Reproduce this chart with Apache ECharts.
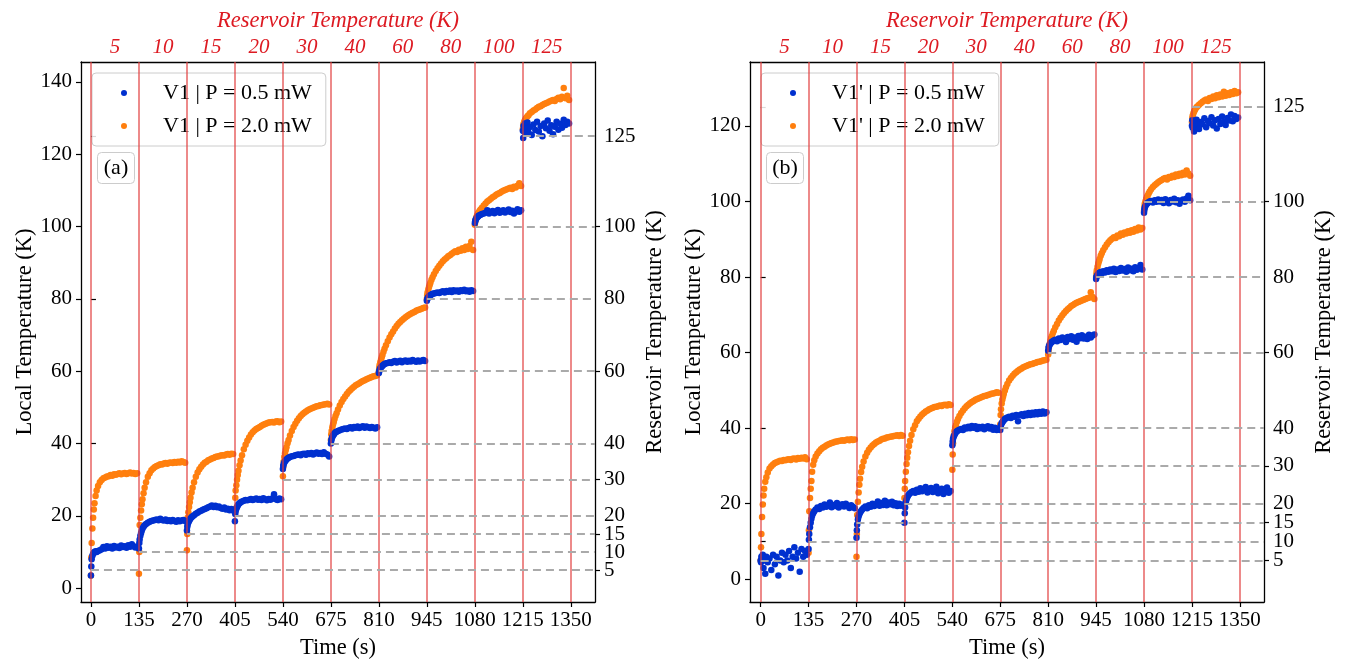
<!DOCTYPE html>
<html>
<head>
<meta charset="utf-8">
<title>Local vs reservoir temperature</title>
<script src="https://cdn.jsdelivr.net/npm/echarts@6/dist/echarts.min.js"></script>
<style>
  html, body { margin: 0; padding: 0; background: #fff; }
  #chart { width: 1346px; height: 661px; }
</style>
</head>
<body>
<div id="chart"></div>
<script>
// Time offsets (s) inside each 135 s reservoir step at which readings are kept
const OFFSETS = [0, 1, 2, 4, 6, 8, 10, 13, 16, 20, 25, 30, 35, 40, 45, 50, 55, 60, 65, 70, 75, 80, 85, 90, 95, 100, 105, 110, 115, 120, 125, 130];
const STEP = 135;
const RESERVOIR_K = [5, 10, 15, 20, 30, 40, 60, 80, 100, 125];
const TIME_TICKS = [0, 135, 270, 405, 540, 675, 810, 945, 1080, 1215, 1350];
// right-hand set-point ticks, split in two interleaved groups so close labels all stay visible
const RIGHT_TICKS_ODD = [5, 15, 30, 60, 100];
const RIGHT_TICKS_EVEN = [10, 20, 40, 80, 125];
const LEFT_TICKS_A = [0, 20, 40, 60, 80, 100, 120, 140];
const LEFT_TICKS_B = [0, 20, 40, 60, 80, 100, 120];

// Device V1, 0.5 mW — one row per reservoir step
const aLow = [
  [3.5, 6.0, 8.0, 9.0, 9.5, 9.8, 10.0, 10.2, 10.0, 10.3, 10.5, 10.8, 11.4, 11.0, 11.6, 11.2, 11.5, 11.0, 11.7, 11.3, 11.5, 11.1, 11.8, 11.4, 11.6, 11.2, 11.9, 11.5, 12.2, 11.6, 11.3, 11.5],
  [11.0, 12.5, 13.5, 14.5, 15.3, 16.0, 16.5, 17.0, 17.4, 17.8, 18.1, 18.4, 18.6, 18.7, 18.9, 19.0, 18.8, 19.2, 18.9, 18.7, 19.0, 18.6, 18.8, 18.5, 18.9, 18.6, 18.4, 18.8, 18.5, 18.7, 18.9, 18.6],
  [16.0, 17.0, 17.6, 18.2, 18.6, 19.0, 19.3, 19.6, 19.9, 20.2, 20.6, 20.9, 21.2, 21.4, 21.7, 21.9, 22.1, 22.4, 22.6, 22.9, 22.5, 22.8, 22.4, 22.6, 22.2, 22.0, 22.3, 21.8, 22.0, 21.6, 21.9, 21.5],
  [18.5, 20.5, 21.3, 22.0, 22.5, 22.9, 23.2, 23.5, 23.8, 24.0, 24.2, 24.4, 24.3, 24.5, 24.7, 24.4, 24.6, 24.8, 24.5, 24.7, 24.4, 24.9, 24.6, 24.3, 24.7, 24.5, 24.8, 26.0, 24.6, 24.4, 24.8, 24.6],
  [33.0, 33.8, 34.3, 34.8, 35.1, 35.4, 35.6, 35.9, 36.1, 36.3, 36.5, 36.6, 36.8, 36.9, 37.0, 36.8, 37.1, 37.2, 36.9, 37.3, 37.1, 37.4, 37.0, 37.3, 37.5, 37.2, 37.4, 37.1, 37.6, 37.2, 37.0, 36.4],
  [40.0, 40.8, 41.3, 41.8, 42.2, 42.5, 42.8, 43.1, 43.3, 43.5, 43.7, 43.9, 44.0, 44.2, 44.0, 44.3, 44.5, 44.2, 44.6, 44.4, 44.7, 44.3, 44.6, 44.8, 44.4, 44.7, 44.5, 44.3, 44.6, 44.4, 44.2, 44.5],
  [59.5, 60.0, 60.4, 60.8, 61.1, 61.3, 61.5, 61.8, 62.0, 62.2, 62.3, 62.5, 62.3, 62.6, 62.8, 62.4, 62.7, 62.9, 62.5, 62.8, 63.0, 62.6, 62.9, 62.7, 63.1, 62.8, 62.6, 63.0, 62.7, 62.9, 63.1, 62.8],
  [79.5, 79.9, 80.2, 80.5, 80.7, 80.9, 81.0, 81.2, 81.4, 81.5, 81.6, 81.8, 81.6, 81.9, 82.1, 81.8, 82.2, 82.0, 82.3, 81.9, 82.4, 82.1, 82.3, 82.0, 82.4, 82.2, 82.5, 82.1, 82.3, 82.0, 82.4, 82.2],
  [101.0, 101.5, 101.9, 102.2, 102.5, 102.7, 102.9, 103.1, 103.3, 103.5, 103.6, 103.8, 104.5, 103.6, 104.0, 104.3, 103.7, 104.2, 104.6, 103.8, 104.1, 104.5, 103.9, 104.3, 104.7, 104.0, 104.4, 103.6, 104.2, 104.8, 104.1, 104.5],
  [126.5, 124.5, 127.8, 126.2, 128.5, 125.8, 127.0, 128.8, 126.0, 127.5, 125.3, 128.2, 126.7, 129.0, 126.3, 127.8, 125.0, 128.5, 127.2, 129.3, 126.5, 128.0, 125.5, 127.6, 129.0, 126.8, 128.4, 127.3, 129.5, 128.1, 129.0, 128.5]
];

// Device V1, 2.0 mW
const aHigh = [
  [3.5, 8.5, 12.5, 16.5, 19.5, 21.8, 23.5, 25.5, 27.0, 28.3, 29.3, 29.9, 30.4, 30.6, 30.9, 31.0, 31.3, 31.1, 31.5, 31.4, 31.6, 31.8, 31.5, 31.7, 31.9, 31.6, 31.8, 32.0, 31.7, 31.9, 31.6, 31.8],
  [4.0, 10.0, 17.5, 19.5, 21.5, 23.2, 24.6, 26.3, 27.8, 29.3, 30.8, 31.8, 32.6, 33.1, 33.5, 33.8, 34.0, 34.3, 34.2, 34.5, 34.6, 34.4, 34.7, 34.8, 34.6, 34.9, 34.7, 35.0, 34.8, 35.1, 34.9, 34.7],
  [10.5, 15.0, 19.5, 21.0, 22.5, 23.8, 25.0, 26.5, 27.8, 29.3, 30.8, 32.0, 32.9, 33.6, 34.2, 34.7, 35.0, 35.4, 35.6, 35.9, 36.0, 36.3, 36.4, 36.5, 36.7, 36.8, 36.7, 37.0, 37.1, 36.9, 37.2, 37.1],
  [22.0, 25.0, 27.0, 28.5, 30.0, 31.3, 32.5, 34.0, 35.3, 36.8, 38.4, 39.7, 40.8, 41.7, 42.5, 43.1, 43.6, 44.0, 44.3, 44.6, 44.9, 45.2, 45.4, 45.6, 45.8, 45.9, 46.0, 45.8, 46.1, 46.2, 45.9, 46.1],
  [31.0, 33.5, 35.0, 36.3, 37.3, 38.2, 39.0, 40.1, 41.0, 42.2, 43.5, 44.6, 45.5, 46.3, 47.0, 47.6, 48.1, 48.5, 48.9, 49.2, 49.5, 49.7, 49.9, 50.1, 50.3, 50.4, 50.6, 50.7, 50.8, 50.9, 51.0, 50.8],
  [41.0, 42.5, 43.5, 44.5, 45.3, 46.0, 46.7, 47.6, 48.4, 49.4, 50.5, 51.5, 52.3, 53.0, 53.7, 54.3, 54.8, 55.3, 55.7, 56.1, 56.4, 56.7, 57.0, 57.3, 57.5, 57.8, 58.0, 58.2, 58.4, 58.6, 58.7, 58.9],
  [60.0, 61.0, 61.7, 62.5, 63.2, 63.9, 64.5, 65.4, 66.2, 67.2, 68.3, 69.3, 70.2, 71.0, 71.8, 72.5, 73.1, 73.6, 74.1, 74.5, 74.9, 75.3, 75.6, 75.9, 76.2, 76.4, 76.7, 76.9, 77.1, 77.3, 77.5, 77.6],
  [80.0, 81.0, 81.8, 82.6, 83.3, 83.9, 84.5, 85.3, 86.0, 86.8, 87.7, 88.5, 89.2, 89.8, 90.4, 90.9, 91.3, 91.8, 92.1, 92.5, 92.8, 93.2, 93.0, 93.6, 93.3, 94.0, 93.5, 94.4, 93.8, 94.6, 95.8, 93.5],
  [100.5, 101.3, 101.9, 102.5, 103.0, 103.4, 103.8, 104.3, 104.7, 105.2, 105.8, 106.4, 106.9, 107.3, 107.7, 108.1, 108.4, 108.8, 109.1, 109.3, 109.6, 109.9, 110.1, 110.3, 110.5, 110.7, 110.4, 111.0, 110.8, 111.3, 112.0, 111.2],
  [127.0, 127.8, 128.4, 129.0, 129.4, 129.8, 130.1, 130.5, 130.8, 131.3, 131.7, 132.1, 132.4, 132.8, 133.1, 133.3, 133.6, 133.9, 134.1, 134.3, 134.6, 134.8, 135.0, 134.7, 135.3, 135.6, 135.2, 135.9, 138.3, 135.5, 136.2, 135.0]
];

// Device V1', 0.5 mW
const bLow = [
  [5.0, 4.5, 6.0, 5.5, 6.5, 3.0, 5.0, 1.5, 6.0, 4.5, 5.5, 2.5, 6.5, 4.0, 6.0, 1.0, 5.0, 7.0, 4.5, 6.5, 5.0, 7.5, 3.0, 6.0, 8.5, 5.5, 7.0, 2.0, 8.0, 6.0, 7.5, 6.5],
  [8.0, 10.5, 12.0, 13.8, 15.0, 16.0, 16.8, 17.5, 18.0, 18.5, 19.0, 18.6, 19.4, 19.0, 19.8, 19.2, 19.6, 20.3, 19.1, 19.7, 19.4, 20.2, 19.0, 19.6, 19.9, 19.3, 20.0, 19.5, 18.9, 19.6, 19.2, 18.8],
  [11.0, 13.0, 14.5, 15.8, 16.6, 17.2, 17.7, 18.1, 18.5, 18.9, 19.3, 18.8, 19.6, 19.2, 20.0, 19.4, 19.9, 20.6, 19.5, 20.2, 19.7, 20.8, 19.6, 20.3, 19.9, 20.5, 19.6, 20.1, 19.4, 20.0, 19.5, 19.8],
  [15.0, 17.5, 19.0, 20.3, 21.1, 21.7, 22.1, 22.5, 22.8, 23.1, 23.4, 22.9, 23.7, 23.2, 24.1, 23.3, 23.9, 24.4, 23.0, 23.8, 24.2, 23.1, 23.7, 24.5, 22.8, 23.6, 24.0, 22.6, 23.5, 24.3, 22.9, 23.4],
  [35.5, 36.5, 37.2, 37.8, 38.2, 38.6, 38.9, 39.2, 39.4, 39.6, 39.8, 39.5, 40.2, 39.9, 40.4, 40.0, 40.6, 40.1, 40.5, 39.8, 40.3, 40.0, 40.4, 39.7, 40.2, 40.5, 39.9, 40.3, 39.6, 40.1, 39.5, 39.8],
  [39.5, 40.3, 40.8, 41.3, 41.6, 41.9, 42.1, 42.4, 42.6, 42.8, 43.0, 42.7, 43.3, 43.0, 43.5, 41.8, 43.4, 43.7, 43.2, 43.8, 43.4, 44.0, 43.5, 44.1, 43.6, 44.2, 43.7, 44.3, 43.8, 44.4, 43.9, 44.2],
  [60.5, 61.2, 61.7, 62.1, 62.4, 62.6, 62.8, 63.0, 63.2, 63.4, 63.0, 63.7, 63.3, 64.0, 63.5, 62.8, 64.1, 63.6, 64.3, 63.4, 64.0, 62.9, 64.4, 63.8, 64.6, 63.7, 64.2, 63.6, 64.7, 64.0, 64.5, 64.8],
  [79.5, 80.0, 80.3, 80.6, 80.8, 81.0, 81.1, 81.3, 81.0, 81.5, 81.2, 81.8, 81.4, 82.0, 81.5, 82.2, 81.3, 82.0, 81.6, 82.4, 81.7, 82.1, 81.4, 82.5, 81.8, 82.2, 81.5, 82.6, 81.9, 82.3, 83.2, 82.0],
  [97.0, 97.8, 98.3, 98.8, 99.2, 99.4, 99.6, 99.8, 100.0, 100.1, 99.7, 100.3, 99.9, 100.5, 100.0, 100.4, 99.6, 100.6, 100.1, 99.5, 100.4, 100.0, 100.7, 99.8, 100.3, 99.4, 100.2, 100.5, 99.9, 100.8, 101.5, 100.3],
  [120.0, 121.5, 119.5, 120.8, 118.5, 121.2, 119.8, 121.6, 120.3, 119.2, 121.0, 120.4, 122.0, 119.6, 121.3, 120.7, 122.3, 120.1, 121.5, 119.3, 121.8, 120.5, 122.5, 121.0, 120.2, 122.1, 121.4, 123.0, 121.2, 122.6, 121.8, 122.2]
];

// Device V1', 2.0 mW
const bHigh = [
  [5.0, 8.5, 12.0, 16.5, 19.8, 22.2, 24.0, 25.8, 27.0, 28.3, 29.3, 29.9, 30.4, 30.8, 31.0, 31.2, 31.4, 31.3, 31.6, 31.5, 31.7, 31.8, 31.6, 31.9, 32.0, 31.7, 32.1, 31.9, 32.2, 32.0, 32.3, 31.8],
  [7.0, 13.0, 18.0, 21.5, 24.0, 26.0, 28.5, 30.3, 31.5, 32.5, 33.3, 33.9, 34.4, 34.8, 35.1, 35.4, 35.7, 35.9, 36.1, 36.2, 36.4, 36.5, 36.6, 36.7, 36.8, 36.7, 36.9, 37.0, 36.8, 37.1, 36.9, 37.0],
  [6.0, 12.0, 17.0, 20.5, 23.0, 25.0, 26.6, 28.4, 29.8, 31.2, 32.5, 33.5, 34.3, 34.9, 35.4, 35.8, 36.2, 36.5, 36.7, 37.0, 37.2, 37.3, 37.5, 37.6, 37.7, 37.8, 37.9, 38.0, 38.1, 37.9, 38.2, 38.0],
  [21.5, 24.0, 26.0, 28.5, 30.5, 32.2, 33.6, 35.3, 36.7, 38.2, 39.7, 40.8, 41.8, 42.5, 43.1, 43.6, 44.0, 44.4, 44.7, 45.0, 45.2, 45.4, 45.6, 45.7, 45.8, 46.0, 45.9, 46.1, 46.2, 46.0, 46.3, 46.1],
  [29.0, 33.0, 36.0, 38.0, 39.2, 40.1, 40.8, 41.7, 42.4, 43.2, 44.0, 44.7, 45.3, 45.8, 46.2, 46.6, 46.9, 47.2, 47.5, 47.7, 47.9, 48.1, 48.3, 48.5, 48.6, 48.8, 48.9, 49.1, 49.2, 49.3, 49.5, 49.4],
  [41.0, 43.5, 45.0, 46.5, 47.6, 48.4, 49.1, 50.0, 50.8, 51.7, 52.6, 53.3, 53.9, 54.4, 54.8, 55.2, 55.5, 55.8, 56.1, 56.3, 56.5, 56.7, 56.9, 57.0, 57.2, 57.3, 57.5, 57.6, 57.7, 57.9, 58.0, 58.1],
  [59.5, 60.5, 61.3, 62.2, 63.0, 63.7, 64.3, 65.1, 65.8, 66.7, 67.6, 68.5, 69.2, 69.9, 70.5, 71.0, 71.5, 71.9, 72.3, 72.6, 72.9, 73.2, 73.4, 73.6, 73.8, 74.0, 74.2, 74.4, 74.5, 76.0, 74.7, 74.2],
  [80.0, 81.0, 81.8, 82.7, 83.5, 84.2, 84.8, 85.6, 86.3, 87.1, 87.9, 88.6, 89.2, 89.7, 90.1, 90.5, 90.3, 91.0, 90.8, 91.5, 91.2, 91.8, 91.5, 92.1, 91.7, 92.4, 92.0, 92.7, 92.3, 93.1, 92.6, 93.0],
  [97.5, 98.5, 99.3, 100.0, 100.6, 101.1, 101.5, 102.1, 102.6, 103.2, 103.8, 104.3, 104.7, 105.1, 105.4, 105.7, 106.0, 106.2, 105.8, 106.5, 106.3, 106.8, 106.5, 107.1, 106.7, 107.3, 106.9, 107.6, 107.1, 108.2, 107.4, 106.8],
  [121.0, 122.0, 122.7, 123.3, 123.8, 124.2, 124.5, 124.9, 125.2, 125.6, 126.0, 126.4, 126.7, 127.0, 126.6, 127.4, 127.1, 127.8, 127.3, 128.1, 127.6, 128.3, 127.8, 129.0, 128.0, 128.6, 128.2, 128.9, 128.4, 129.2, 128.6, 128.9]
];

const FONT = "'Liberation Serif', 'Times New Roman', 'DejaVu Serif', serif";
const BLUE = '#0030cf';
const ORANGE = '#ff7f0e';
const RED_TEXT = '#dd1a22';
const RED_LINE = 'rgba(225, 60, 60, 0.6)';
const TICK_FS = 21;
const TITLE_FS = 22.5;

function toPoints(steps) {
  const pts = [];
  steps.forEach((vals, k) => {
    vals.forEach((v, i) => pts.push([k * STEP + OFFSETS[i], v]));
  });
  return pts;
}

const panels = [
  { left: 81, xMin: -28, xMax: 1418, yMin: -3.8, yMax: 145.5, leftTicks: LEFT_TICKS_A,
    low: aLow, high: aHigh, names: ['V1 | P = 0.5 mW', 'V1 | P = 2.0 mW'], tag: '(a)' },
  { left: 750, xMin: -30, xMax: 1418, yMin: -6, yMax: 136.9, leftTicks: LEFT_TICKS_B,
    low: bLow, high: bHigh, names: ["V1' | P = 0.5 mW", "V1' | P = 2.0 mW"], tag: '(b)' }
];

const PLOT_W = 514, PLOT_TOP = 62, PLOT_H = 540;

const option = {
  backgroundColor: '#fff',
  animation: false,
  textStyle: { fontFamily: FONT },
  grid: [], xAxis: [], yAxis: [], series: [], legend: [], graphic: []
};

const axisLine = { show: true, onZero: false, lineStyle: { color: '#000', width: 1.3 } };
const axisTick = (vals) => ({ show: true, length: 5, inside: false, customValues: vals, lineStyle: { color: '#000', width: 1.2 } });
const plainLabel = (vals, margin) => ({
  customValues: vals, fontFamily: FONT, fontSize: TICK_FS, color: '#000', margin,
  hideOverlap: false, showMinLabel: true, showMaxLabel: true, formatter: (v) => String(v)
});

panels.forEach((p, gi) => {
  option.grid.push({
    left: p.left, top: PLOT_TOP, width: PLOT_W, height: PLOT_H,
    containLabel: false, outerBoundsMode: 'none'
  });

  // bottom time axis
  option.xAxis.push({
    type: 'value', gridIndex: gi, position: 'bottom', min: p.xMin, max: p.xMax,
    name: 'Time (s)', nameLocation: 'middle', nameGap: 35,
    nameTextStyle: { fontFamily: FONT, fontSize: TITLE_FS, color: '#000' },
    axisLine, axisTick: axisTick(TIME_TICKS), splitLine: { show: false },
    axisLabel: plainLabel(TIME_TICKS, 8)
  });
  // top reservoir-temperature axis, labels centred on each step
  const centers = RESERVOIR_K.map((_, k) => k * STEP + STEP / 2);
  option.xAxis.push({
    type: 'value', gridIndex: gi, position: 'top', min: p.xMin, max: p.xMax,
    name: 'Reservoir Temperature (K)', nameLocation: 'middle', nameGap: 28,
    nameTextStyle: { fontFamily: FONT, fontSize: TITLE_FS, color: RED_TEXT, fontStyle: 'italic' },
    axisLine, axisTick: { show: false }, splitLine: { show: false },
    axisLabel: {
      customValues: centers, fontFamily: FONT, fontSize: TICK_FS, color: RED_TEXT, fontStyle: 'italic', margin: 4,
      hideOverlap: false, showMinLabel: true, showMaxLabel: true,
      formatter: (v) => String(RESERVOIR_K[Math.round((v - STEP / 2) / STEP)])
    }
  });
  // left local-temperature axis
  option.yAxis.push({
    type: 'value', gridIndex: gi, position: 'left', min: p.yMin, max: p.yMax,
    name: 'Local Temperature (K)', nameLocation: 'middle', nameGap: 38, nameRotate: 90,
    nameTextStyle: { fontFamily: FONT, fontSize: TITLE_FS, color: '#000' },
    axisLine, axisTick: axisTick(p.leftTicks), splitLine: { show: false },
    axisLabel: plainLabel(p.leftTicks, 9)
  });
  // right reservoir-temperature axis on the same scale (first half of the labels)
  option.yAxis.push({
    type: 'value', gridIndex: gi, position: 'right', min: p.yMin, max: p.yMax,
    name: 'Reservoir Temperature (K)', nameLocation: 'middle', nameGap: 49, nameRotate: 90,
    nameTextStyle: { fontFamily: FONT, fontSize: TITLE_FS, color: '#000' },
    axisLine, axisTick: axisTick(RIGHT_TICKS_ODD), splitLine: { show: false },
    axisLabel: plainLabel(RIGHT_TICKS_ODD, 9)
  });
  // second half of the right-hand labels, drawn on an overlapping axis
  option.yAxis.push({
    type: 'value', gridIndex: gi, position: 'right', min: p.yMin, max: p.yMax,
    axisLine: { show: false }, axisTick: axisTick(RIGHT_TICKS_EVEN), splitLine: { show: false },
    axisLabel: plainLabel(RIGHT_TICKS_EVEN, 9)
  });

  const xi = gi * 2, yi = gi * 3;

  // guide lines: red step boundaries and dashed reservoir set-points
  option.series.push({
    type: 'scatter', xAxisIndex: xi, yAxisIndex: yi, data: [], silent: true, z: 1,
    markLine: {
      silent: true, symbol: 'none', animation: false,
      label: { show: false }, emphasis: { disabled: true },
      lineStyle: { color: RED_LINE, width: 2, type: 'solid' },
      data: TIME_TICKS.map(t => ({ xAxis: t }))
    }
  });
  option.series.push({
    type: 'scatter', xAxisIndex: xi, yAxisIndex: yi, data: [], silent: true, z: 1,
    markLine: {
      silent: true, symbol: 'none', animation: false,
      label: { show: false }, emphasis: { disabled: true },
      lineStyle: { color: '#aaaaaa', width: 1.8, type: [8, 5] },
      data: RESERVOIR_K.map((T, k) => [{ coord: [k * STEP, T] }, { coord: [p.xMax, T] }])
    }
  });

  option.series.push({
    name: p.names[1], type: 'scatter', xAxisIndex: xi, yAxisIndex: yi, z: 3,
    symbol: 'circle', symbolSize: 6.5, itemStyle: { color: ORANGE, opacity: 1 },
    data: toPoints(p.high)
  });
  option.series.push({
    name: p.names[0], type: 'scatter', xAxisIndex: xi, yAxisIndex: yi, z: 4,
    symbol: 'circle', symbolSize: 6.5, itemStyle: { color: BLUE, opacity: 1 },
    data: toPoints(p.low)
  });

  option.legend.push({
    data: p.names, orient: 'vertical', left: p.left + 11, top: 73,
    itemWidth: 6, itemHeight: 6, itemGap: 11, icon: 'circle',
    padding: [9, 14, 9, 29],
    backgroundColor: 'rgba(255,255,255,0.85)', borderColor: '#cccccc', borderWidth: 1, borderRadius: 4,
    textStyle: { fontFamily: FONT, fontSize: 22, color: '#000', padding: [0, 0, 0, 31] },
    selectedMode: false
  });

  // panel tag in a rounded box
  option.graphic.push({
    type: 'group', left: p.left + 16, top: 152,
    children: [
      { type: 'rect', shape: { x: 0, y: 0, width: 37, height: 31, r: 4 },
        style: { fill: '#fff', stroke: '#cccccc', lineWidth: 1 } },
      { type: 'text', x: 18.5, y: 16,
        style: { text: p.tag, font: '22px ' + FONT, fill: '#000', textAlign: 'center', textVerticalAlign: 'middle' } }
    ]
  });
});

const chart = echarts.init(document.getElementById('chart'), null, { renderer: 'canvas' });
chart.setOption(option);
</script>
</body>
</html>
